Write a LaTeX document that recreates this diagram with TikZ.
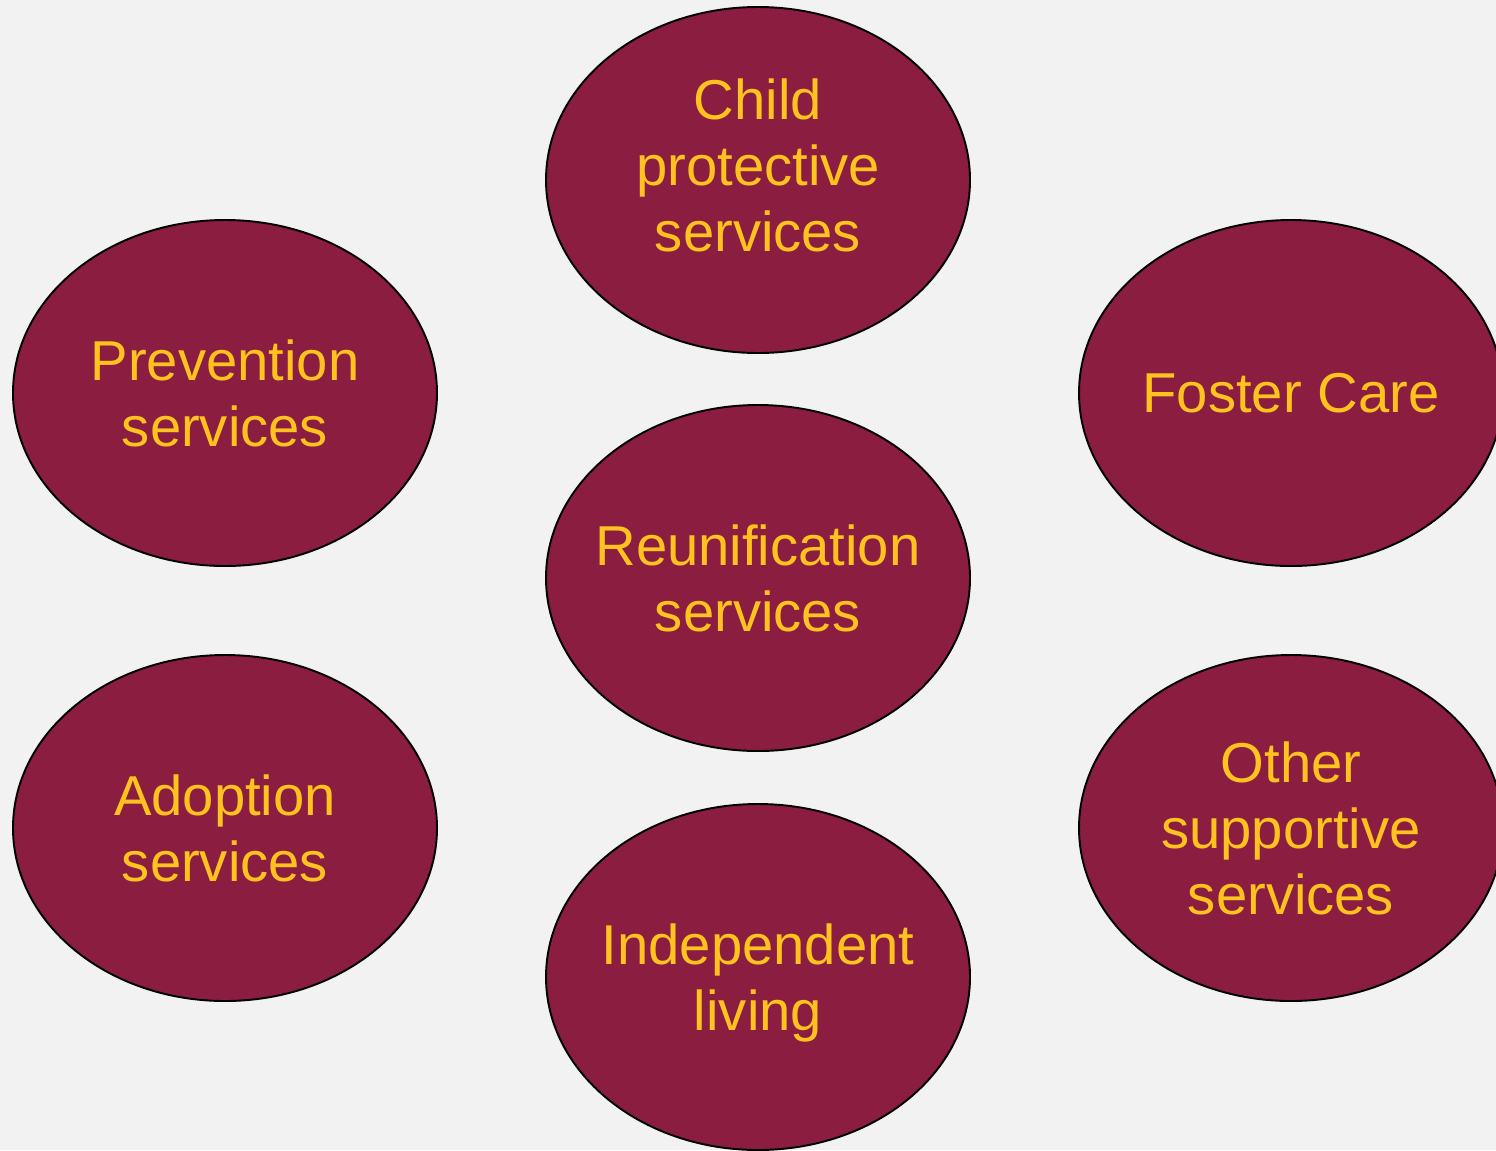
\documentclass[tikz,border=0pt]{standalone}
\usepackage{fontspec}
\setmainfont{Liberation Sans}
\usepackage{tikz}
\usetikzlibrary{shapes.geometric}
\definecolor{maroon}{RGB}{139, 29, 65}
\definecolor{gold}{RGB}{255, 194, 30}
\definecolor{canvas}{RGB}{242, 242, 242}
\newcommand{\unitpx}{*0.02cm}
\tikzset{
    service/.style={ellipse, draw=black, line width=1.1pt, fill=maroon, text=gold, inner xsep=-20\unitpx, inner ysep=0pt, minimum width=424\unitpx, minimum height=346\unitpx, align=center, font=\fontsize{32}{37.5}\selectfont}
}

\begin{document}
\begin{tikzpicture}[x=0.02cm, y=-0.02cm]
    % Background
    \fill[canvas] (0, 0) rectangle (1496, 1150);
    \useasboundingbox (0, 0) rectangle (1496, 1150);

    % Middle column
    \node[service, text depth=17pt] (protective) at (758, 180) {Child\\protective\\services};
    \node[service] (reunify) at (758, 578) {Reunification\\services};
    \node[service, text depth=0pt] (independent) at (758, 977) {Independent\\living};

    % Left column
    \node[service] (prevention) at (225, 393) {Prevention\\services};
    \node[service] (adoption) at (225, 828) {Adoption\\services};

    % Right column
    \node[service] (foster) at (1291, 393) {Foster Care};
    \node[service] (supportive) at (1291, 828) {Other\\supportive\\services};
\end{tikzpicture}
\end{document}
